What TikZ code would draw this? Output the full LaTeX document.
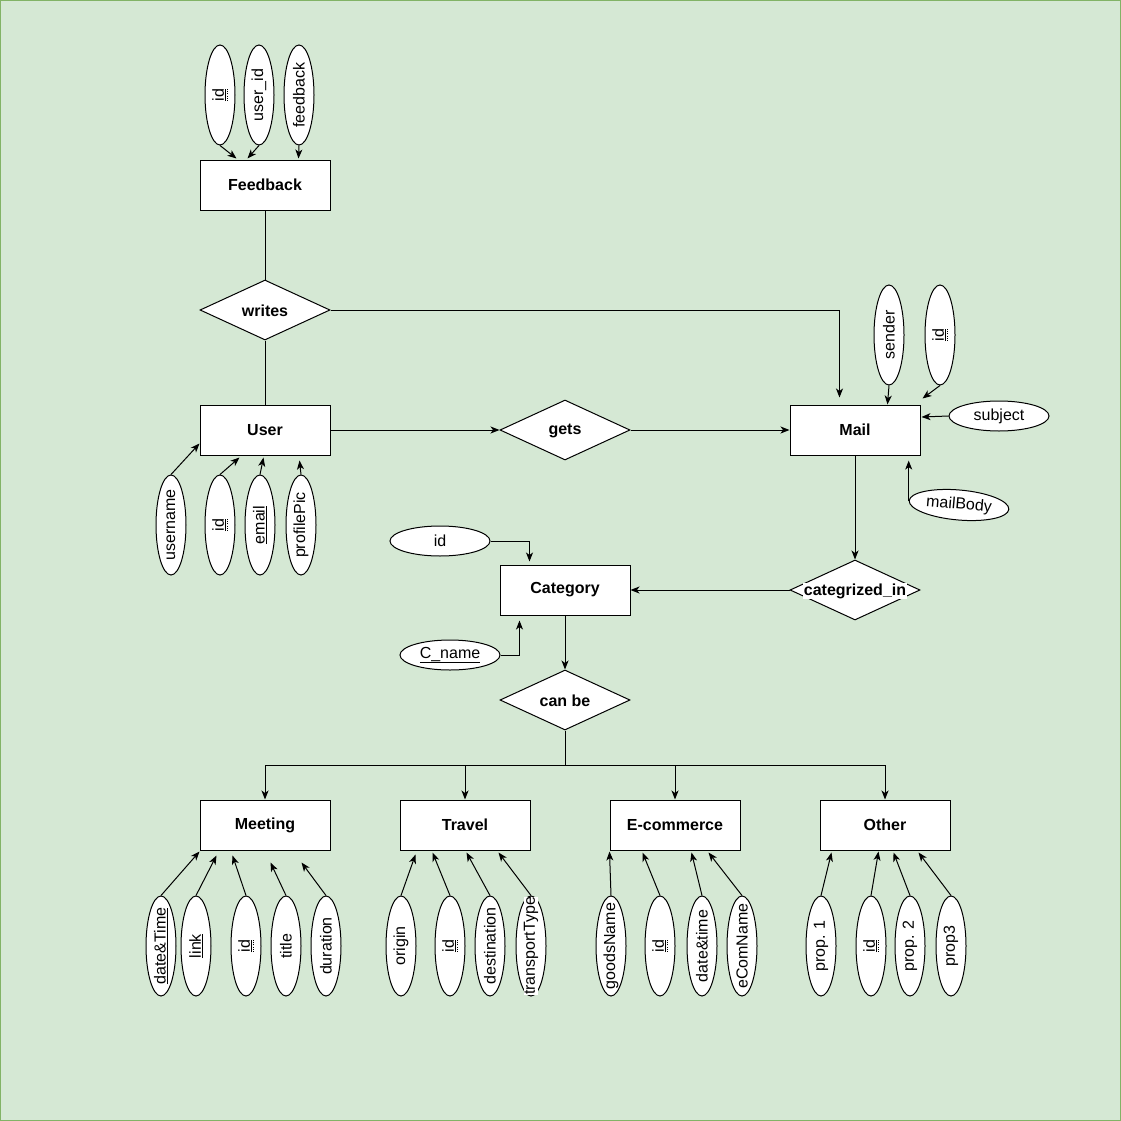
\documentclass[tikz,border=0pt]{standalone}
\usepackage{fontspec}
\setmainfont{Liberation Sans}
\usetikzlibrary{shapes.geometric,arrows.meta,calc}
\definecolor{bgc}{HTML}{D5E8D4}
\definecolor{bdc}{HTML}{82B366}
\newcommand\zw[1]{\makebox[0pt]{#1}}
\newcommand\pkey[1]{\setbox0=\hbox{#1}\rlap{\raisebox{-4pt}{\hbox to \wd0{\xleaders\hbox to 2pt{\hss\rule{1pt}{0.6pt}\hss}\hfill}}}\underline{\box0}}
\begin{document}
\begin{tikzpicture}[x=1pt,y=-1pt,line width=1pt,
 font=\fontsize{16}{19}\selectfont,
 ent/.style={draw, fill=white, minimum width=130pt, minimum height=50pt, inner sep=0pt, font=\fontsize{16}{19}\selectfont\bfseries},
 rel/.style={draw, fill=white, diamond, aspect=2.1667, minimum width=130pt, minimum height=60pt, inner sep=0pt},
 rlab/.style={inner sep=0.5pt, font=\fontsize{16}{19}\selectfont\bfseries},
 vatt/.style={draw, fill=white, ellipse, minimum width=100pt, minimum height=30pt, inner sep=0pt, rotate=90},
 hatt/.style={draw, fill=white, ellipse, minimum width=100pt, minimum height=30pt, inner sep=0pt},
 wlab/.style={fill=white, inner sep=0pt, rotate=90},
 arr/.style={-{Stealth[length=9pt,width=7pt,inset=2.5pt]}}
]
\useasboundingbox (0,0) rectangle (1121,1121);
\draw[bdc, fill=bgc] (0.5,0.5) rectangle (1120.5,1120.5);

% entities
\node[ent] (Feedback) at (265,185) {Feedback};
\node[ent] (User) at (265,430) {User};
\node[ent] (Mail) at (855,430) {Mail};
\node[ent] (Category) at (565,590) {Category};
\node[ent] (Meeting) at (265,825) {Meeting};
\node[ent] (Travel) at (465,825) {Travel};
\node[ent] (Ecom) at (675,825) {E-commerce};
\node[ent] (Other) at (885,825) {Other};

% relationships
\node[rel] (writes) at (265,310) {};
\node[rlab] (writesl) at (265,311) {writes};
\node[rel] (gets) at (565,430) {};
\node[rlab] (getsl) at (565,431) {gets};
\node[rel] (catin) at (855,590) {};
\node[rlab, fill=white] (catinl) at (855,591) {categrized\_in};
\node[rel] (canbe) at (565,700) {};
\node[rlab] (canbel) at (565,701) {can be};

% relationship connectors
\draw (Feedback.south) -- (writes.north);
\draw (writes.south) -- (User.north);
\draw[arr] (writes.east) -| ($(Mail.north west)+(50,-7)$);
\draw[arr] (User.east) -- (gets.west);
\draw[arr] (gets.east) -- (Mail.west);
\draw[arr] (Mail.south) -- (catin.north);
\draw[arr] (catin.west) -- (Category.east);
\draw[arr] (Category.south) -- (canbe.north);
\coordinate (split) at (565,765);
\draw (canbe.south) -- (split);
\draw[arr] (split) -| (Meeting.north);
\draw[arr] (split) -| (Travel.north);
\draw[arr] (split) -| (Ecom.north);
\draw[arr] (split) -| (Other.north);

% Feedback attributes
\node[vatt] (fa1) at (220,95) {\zw{\pkey{id}}};
\node[vatt] (fa2) at (259,95) {\zw{user\_id}};
\node[vatt] (fa3) at (299,95) {\zw{feedback}};
\draw[arr] (fa1.west) -- ($(Feedback.north west)+(37,-1)$);
\draw[arr] (fa2.west) -- ($(Feedback.north west)+(48,-1)$);
\draw[arr] (fa3.west) -- ($(Feedback.north west)+(99,-1)$);

% User attributes
\node[vatt] (ua1) at (171,525) {\zw{username}};
\node[vatt] (ua2) at (220,525) {\zw{\pkey{id}}};
\node[vatt] (ua3) at (260,525) {\zw{\underline{email}}};
\node[vatt] (ua4) at (301,525) {\zw{profilePic}};
\draw[arr] (ua1.east) -- ($(User.south west)+(0,-12)$);
\draw[arr] (ua2.east) -- ($(User.south west)+(40,2)$);
\draw[arr] (ua3.east) -- ($(User.south west)+(64,2)$);
\draw[arr] (ua4.east) -- ($(User.south west)+(100,5)$);

% Mail attributes
\node[vatt] (ma1) at (889,335) {\zw{sender}};
\node[vatt] (ma2) at (940,335) {\zw{\pkey{id}}};
\node[hatt] (subj) at (999,416) {subject};
\node[hatt, rotate=-5] (mb) at (959,505) {mailBody};
\draw[arr] (ma1.west) -- ($(Mail.north west)+(98,0)$);
\draw[arr] (ma2.west) -- ($(Mail.north east)+(2,-6)$);
\draw[arr] (subj.west) -- ($(Mail.east)+(1,-13)$);
\draw[arr] (mb.west) -- ++(0,-40);

% Category attributes
\node[hatt] (cid) at (440,541) {id};
\node[hatt] (cname) at (450,655) {\underline{C\_name}};
\draw[arr] (cid.east) -| ($(Category.north west)+(30,-3)$);
\draw[arr] (cname.east) -| ($(Category.south west)+(20,5)$);

% Meeting attributes
\node[vatt] (m1) at (161,946) {\zw{\underline{date\&Time}}};
\node[vatt] (m2) at (196,946) {\zw{\underline{link}}};
\node[vatt] (m3) at (246,946) {\zw{\pkey{id}}};
\node[vatt] (m4) at (286,946) {\zw{title}};
\node[vatt] (m5) at (326,946) {\zw{duration}};
\draw[arr] (m1.east) -- ($(Meeting.south west)+(0,1)$);
\draw[arr] (m2.east) -- ($(Meeting.south west)+(17,5)$);
\draw[arr] (m3.east) -- ($(Meeting.south west)+(33,5)$);
\draw[arr] (m4.east) -- ($(Meeting.south west)+(71,12)$);
\draw[arr] (m5.east) -- ($(Meeting.south west)+(102,12)$);

% Travel attributes
\node[vatt] (t1) at (401,946) {\zw{origin}};
\node[vatt] (t2) at (450,946) {\zw{\pkey{id}}};
\node[vatt] (t3) at (490,946) {\zw{destination}};
\node[vatt] (t4) at (531,946) {};
\node[wlab] (t4l) at (t4) {transportType};
\draw[arr] (t1.east) -- ($(Travel.south west)+(16,4)$);
\draw[arr] (t2.east) -- ($(Travel.south west)+(33,2)$);
\draw[arr] (t3.east) -- ($(Travel.south west)+(67,2)$);
\draw[arr] (t4.east) -- ($(Travel.south west)+(99,2)$);

% E-commerce attributes
\node[vatt] (e1) at (611,946) {};
\node[wlab] (e1l) at (e1) {goodsName};
\node[vatt] (e2) at (660,946) {\zw{\pkey{id}}};
\node[vatt] (e3) at (702,946) {\zw{date\&time}};
\node[vatt] (e4) at (742,946) {};
\node[wlab] (e4l) at (e4) {eComName};
\draw[arr] (e1.east) -- ($(Ecom.south west)+(0,1)$);
\draw[arr] (e2.east) -- ($(Ecom.south west)+(33,2)$);
\draw[arr] (e3.east) -- ($(Ecom.south west)+(82,2)$);
\draw[arr] (e4.east) -- ($(Ecom.south west)+(99,2)$);

% Other attributes
\node[vatt] (o1) at (821,946) {\zw{prop. 1}};
\node[vatt] (o2) at (871,946) {\zw{\pkey{id}}};
\node[vatt] (o3) at (910,946) {\zw{prop. 2}};
\node[vatt] (o4) at (951,946) {\zw{prop3}};
\draw[arr] (o1.east) -- ($(Other.south west)+(12,2)$);
\draw[arr] (o2.east) -- ($(Other.south west)+(59,1)$);
\draw[arr] (o3.east) -- ($(Other.south west)+(74,2)$);
\draw[arr] (o4.east) -- ($(Other.south west)+(99,2)$);
\end{tikzpicture}
\end{document}
